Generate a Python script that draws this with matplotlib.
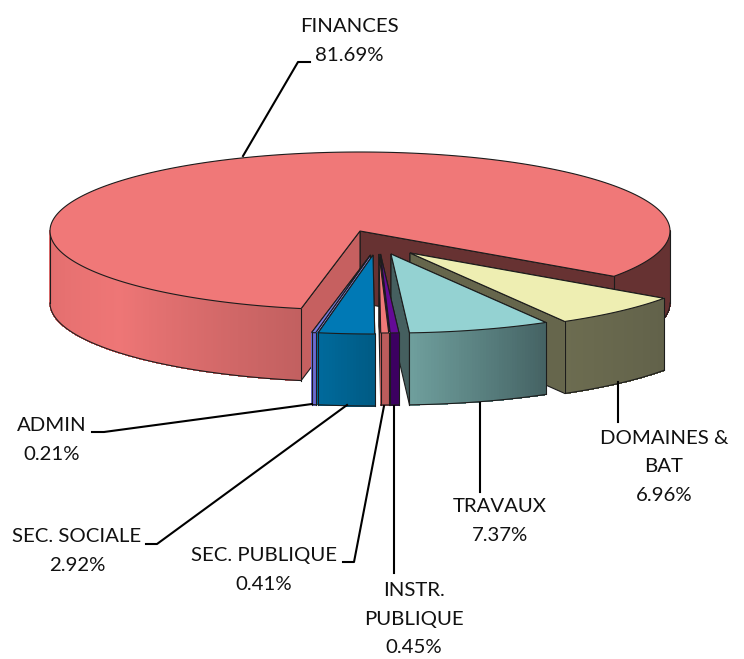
# 3D style exploded pie of the budget shares
import numpy as np
from matplotlib import pyplot as plt
from matplotlib.colors import to_rgb

plt.rcParams['font.family'] = ['Lato', 'DejaVu Sans']

names = ['FINANCES', 'ADMIN', 'SEC. SOCIALE', 'SEC. PUBLIQUE', 'INSTR.\nPUBLIQUE', 'TRAVAUX', 'DOMAINES &\nBAT']
shares = [81.69, 0.21, 2.92, 0.41, 0.45, 7.37, 6.96]

""" Geometry of the pie in pixels """
A = 310
B = 79
DEPTH = 72
START = -35
tips = [(360, 231), (370.5, 255), (373, 255), (379, 254), (380.5, 254), (391, 254), (410, 253)]

""" Colours: top, wall at start angle, wall at end angle, outer wall stops """
tops = ['#f07878', '#7a7ae0', '#0079b5', '#f07878', '#640a96', '#94d2d2', '#eeeeb2']
cut_start = ['#673232', '#7a7ae0', '#004f70', '#4a2020', '#300050', '#455f5f', '#66664c']
cut_end = ['#c66060', '#8a8ae6', '#005a85', '#b85a5a', '#3c0060', '#455f5f', '#66664c']
sides = [['#e06c6c', '#ee7676', '#c26060'], ['#6a6ad0', '#6a6ad0'], ['#006a9c', '#005b85'],
         ['#bb5c5c', '#bb5c5c'], ['#3c0060', '#3c0060'], ['#6f9f9d', '#456364'], ['#6c6c50', '#62624a']]
back_side = '#663232'

# labels centre position, (x, y) in pixels
label_pos = [(349, 41), (52, 440), (77, 551), (264, 570), (414, 619), (500, 521), (664, 467)]
leaders = [[(243, 156), (298, 62), (310, 62)],
           [(92, 432), (104, 432), (312, 404)],
           [(146, 544), (157, 544), (347, 405)],
           [(343, 562), (354, 562), (384, 406)],
           [(394, 406), (394, 573)],
           [(480, 403), (480, 492)],
           [(618, 382), (618, 422)]]

fig = plt.figure(figsize=(7.44, 6.59), dpi=100)
ax = fig.add_axes([0, 0, 1, 1])
ax.set_xlim(0, 744)
ax.set_ylim(659, 0)
ax.axis('off')

edge = '#1c1c1c'
lw = 0.8
z = [1]


def next_z():
    z[0] += 1
    return z[0]


def arc(tip, t0, t1):
    n = max(int(abs(t1 - t0)) * 2, 2)
    t = np.radians(np.linspace(t0, t1, n))
    return tip[0] + A * np.cos(t), tip[1] - B * np.sin(t)


def blend(stops, f):
    stops = [np.array(to_rgb(c)) for c in stops]
    pos = f * (len(stops) - 1)
    i = min(int(pos), len(stops) - 2)
    return tuple(stops[i] + (stops[i + 1] - stops[i]) * (pos - i))


def outer_wall(tip, t0, t1, colors):
    x, y = arc(tip, t0, t1)
    order = next_z()
    for i in range(len(x) - 1):
        c = colors if isinstance(colors, str) else blend(colors, i / max(len(x) - 2, 1))
        # aliased strips, so no seams show between them
        ax.fill([x[i], x[i + 1], x[i + 1], x[i]],
                [y[i], y[i + 1], y[i + 1] + DEPTH, y[i] + DEPTH],
                facecolor=c, edgecolor=c, linewidth=0.5, antialiased=False, zorder=order)
    ax.plot(x, y + DEPTH, color=edge, lw=lw, zorder=next_z())
    ax.plot([x[0], x[0]], [y[0], y[0] + DEPTH], color=edge, lw=lw, zorder=z[0])
    ax.plot([x[-1], x[-1]], [y[-1], y[-1] + DEPTH], color=edge, lw=lw, zorder=z[0])


def cut_wall(tip, t, color):
    x, y = arc(tip, t, t + 1)
    ax.fill([tip[0], x[0], x[0], tip[0]],
            [tip[1], y[0], y[0] + DEPTH, tip[1] + DEPTH],
            facecolor=color, edgecolor=edge, linewidth=lw, zorder=next_z())


def draw_slice(i, t0, t1):
    tip = tips[i]
    # the wall turned away from the viewer goes first
    if t1 > 270:
        cut_wall(tip, t1, cut_end[i])
        cut_wall(tip, t0, cut_start[i])
    else:
        cut_wall(tip, t0, cut_start[i])
        cut_wall(tip, t1, cut_end[i])
    if i == 0:
        # big slice: only the front parts of the rim can be seen
        outer_wall(tip, t0, 0, back_side)
        outer_wall(tip, 180, t1, sides[i])
    else:
        outer_wall(tip, t0, t1, sides[i])
    x, y = arc(tip, t0, t1)
    ax.fill(np.r_[tip[0], x], np.r_[tip[1], y], facecolor=tops[i], edgecolor=edge, linewidth=lw, zorder=next_z())


angles = START + np.r_[0, np.cumsum(shares)] * 360 / sum(shares)

# painter order, back to front
for i in [0, 6, 5, 4, 3, 1, 2]:
    draw_slice(i, angles[i], angles[i + 1])

for pts in leaders:
    ax.plot([p[0] for p in pts], [p[1] for p in pts], color='black', lw=1.5, zorder=next_z())

for name, share, pos in zip(names, shares, label_pos):
    ax.text(pos[0], pos[1], f'{name}\n{share:.2f}%', ha='center', va='center', ma='center',
            fontsize=14.7, color='#111111', linespacing=1.85, zorder=next_z())

fig.savefig('out.png', dpi=100)
